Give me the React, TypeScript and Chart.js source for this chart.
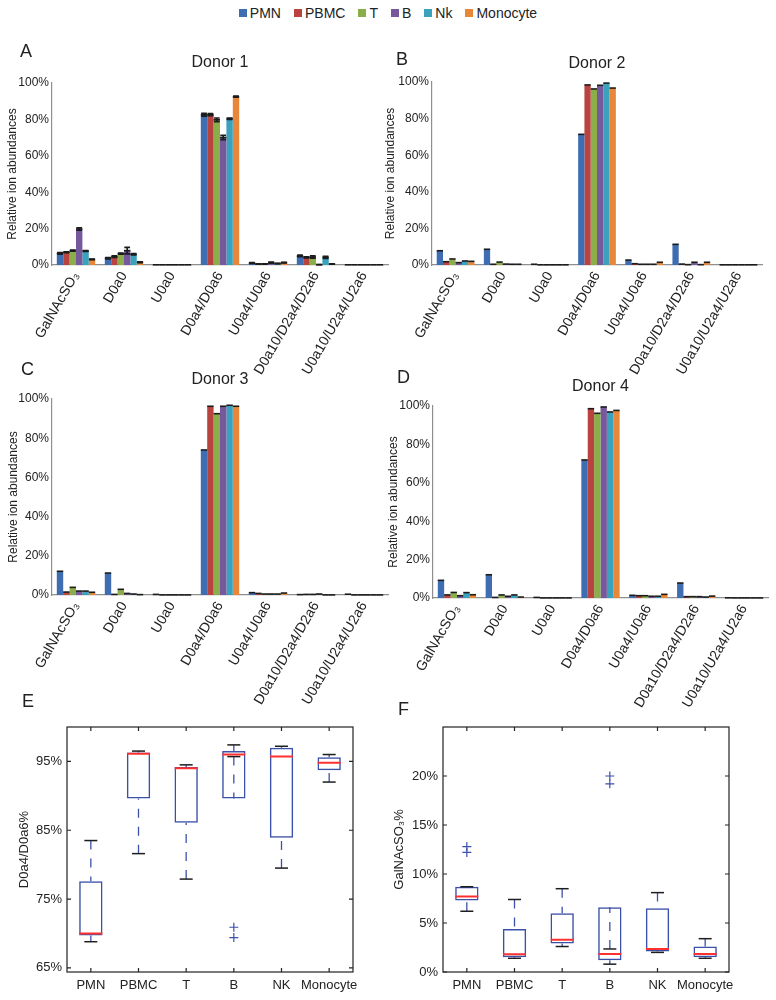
import React, { useEffect, useRef } from "react";
import { Chart, registerables } from "chart.js";
Chart.register(...registerables);

const FONT = "'Liberation Sans', Arial, Helvetica, sans-serif";
Chart.defaults.font.family = FONT;
Chart.defaults.color = "#222";

// ---------- data ----------
const cellTypes = ["PMN", "PBMC", "T", "B", "Nk", "Monocyte"];
const cellColors = ["#3E6DB1", "#B9433F", "#8BAE4B", "#76589C", "#3BA2BD", "#E8873A"];
const categories = ["GalNAcSO₃", "D0a0", "U0a0", "D0a4/D0a6", "U0a4/U0a6", "D0a10/D2a4/D2a6", "U0a10/U2a4/U2a6"];

// rows: PMN, PBMC, T, B, Nk, Monocyte ; columns: categories
const donor1 = [
  [6.4, 3.7, 0.1, 82.6, 1.1, 5.0, 0.1],
  [7.0, 4.6, 0.1, 82.6, 0.6, 4.2, 0.1],
  [7.9, 6.2, 0.1, 79.8, 0.6, 4.4, 0.1],
  [19.8, 7.9, 0.1, 70.1, 1.3, 0.2, 0.1],
  [7.7, 5.9, 0.1, 80.4, 0.8, 4.2, 0.1],
  [3.1, 1.5, 0.1, 92.5, 1.3, 0.5, 0.1],
];
const donor1Errors = [
  [0.4, 0.4, 0, 0.8, 0.2, 0.4, 0],
  [0.3, 0.4, 0, 0.6, 0.1, 0.3, 0],
  [0.3, 0.3, 0, 1.0, 0.1, 0.6, 0],
  [0.7, 1.8, 0, 1.2, 0.3, 0.1, 0],
  [0.2, 0.4, 0, 0.4, 0.1, 0.6, 0],
  [0.2, 0.2, 0, 0.3, 0.2, 0.1, 0],
];
const donor2 = [
  [7.8, 8.6, 0.4, 71.4, 2.7, 11.3, 0.1],
  [1.8, 0.4, 0.1, 98.4, 0.7, 0.5, 0.1],
  [3.3, 1.6, 0.1, 96.2, 0.4, 0.2, 0.1],
  [1.3, 0.5, 0.1, 98.2, 0.4, 1.5, 0.1],
  [2.2, 0.4, 0.1, 99.4, 0.4, 0.2, 0.1],
  [2.0, 0.4, 0.1, 96.7, 1.5, 1.5, 0.1],
];
const donor3 = [
  [12.1, 11.2, 0.3, 74.0, 1.2, 0.2, 0.4],
  [1.5, 0.3, 0.05, 96.3, 0.8, 0.3, 0.05],
  [3.9, 2.9, 0.05, 92.5, 0.5, 0.3, 0.05],
  [2.0, 0.8, 0.05, 96.3, 0.5, 0.5, 0.05],
  [2.0, 0.5, 0.05, 96.8, 0.5, 0.05, 0.05],
  [1.4, 0.2, 0.05, 96.3, 1.0, 0.05, 0.05],
];
const donor4 = [
  [9.2, 12.1, 0.3, 71.9, 1.4, 7.8, 0.1],
  [1.6, 0.3, 0.05, 98.6, 1.2, 0.7, 0.05],
  [2.9, 1.6, 0.05, 96.2, 1.2, 0.7, 0.05],
  [1.2, 0.9, 0.05, 99.5, 0.9, 0.7, 0.05],
  [2.8, 1.6, 0.05, 96.9, 0.9, 0.5, 0.05],
  [1.7, 0.5, 0.05, 97.7, 1.9, 1.0, 0.05],
];

const boxCategories = ["PMN", "PBMC", "T", "B", "NK", "Monocyte"];
// E: D0a4/D0a6 %
const eUpper = [83.5, 96.5, 94.5, 97.4, 97.2, 96.0];
const eQ3 = [77.6, 96.3, 94.2, 96.5, 97.0, 95.6];
const eMedian = [70.0, 96.1, 94.0, 96.0, 95.7, 94.8];
const eQ1 = [69.7, 89.6, 86.1, 89.6, 83.9, 93.7];
const eLower = [68.8, 81.6, 77.9, 95.7, 79.5, 92.0];
const eOutlierCats = ["B", "B"];
const eOutlierValues = [70.9, 69.4];
const eTicks = [65, 75, 85, 95];
// F: GalNAcSO3 %
const fUpper = [8.7, 7.4, 8.5, 2.35, 8.1, 3.4];
const fQ3 = [8.7, 4.4, 6.0, 6.6, 6.5, 2.6];
const fMedian = [7.7, 1.8, 3.3, 1.84, 2.35, 1.84];
const fQ1 = [7.3, 1.5, 2.9, 1.2, 2.1, 1.5];
const fLower = [6.2, 1.4, 2.6, 0.8, 2.0, 1.4];
const fOutlierCats = ["PMN", "PMN", "B", "B"];
const fOutlierValues = [12.8, 12.2, 20.0, 19.2];
const fTicks = [0, 5, 10, 15, 20];

// ---------- plugins ----------
function capPlugin(errors?: number[][]) {
  return {
    id: "barCaps",
    afterDatasetsDraw(chart: any) {
      const ctx = chart.ctx;
      const ys = chart.scales.y;
      ctx.save();
      ctx.strokeStyle = "#1c1c1c";
      ctx.lineWidth = 1.6;
      chart.data.datasets.forEach((ds: any, di: number) => {
        const meta = chart.getDatasetMeta(di);
        meta.data.forEach((el: any, i: number) => {
          const v = ds.data[i];
          const w = el.width;
          const yy = ys.getPixelForValue(v);
          ctx.beginPath();
          ctx.moveTo(el.x - w / 2, yy);
          ctx.lineTo(el.x + w / 2, yy);
          ctx.stroke();
          const e = errors && errors[di] ? errors[di][i] : 0;
          if (e > 0) {
            const y1 = ys.getPixelForValue(v - e);
            const y2 = ys.getPixelForValue(v + e);
            const hw = w * 0.45;
            ctx.beginPath();
            ctx.moveTo(el.x, y1);
            ctx.lineTo(el.x, y2);
            ctx.moveTo(el.x - hw, y1);
            ctx.lineTo(el.x + hw, y1);
            ctx.moveTo(el.x - hw, y2);
            ctx.lineTo(el.x + hw, y2);
            ctx.stroke();
          }
        });
      });
      ctx.restore();
    },
  };
}

const framePlugin = {
  id: "frame",
  afterDraw(chart: any) {
    const { ctx, chartArea } = chart;
    const { left, top, right, bottom } = chartArea;
    const xs = chart.scales.x;
    const ys = chart.scales.y;
    ctx.save();
    ctx.strokeStyle = "#222";
    ctx.lineWidth = 1.2;
    ctx.strokeRect(left, top, right - left, bottom - top);
    ctx.beginPath();
    xs.ticks.forEach((_t: any, i: number) => {
      const px = xs.getPixelForTick(i);
      ctx.moveTo(px, top);
      ctx.lineTo(px, top + 4);
      ctx.moveTo(px, bottom);
      ctx.lineTo(px, bottom - 4);
    });
    ys.ticks.forEach((_t: any, i: number) => {
      const py = ys.getPixelForTick(i);
      ctx.moveTo(left, py);
      ctx.lineTo(left + 4, py);
      ctx.moveTo(right, py);
      ctx.lineTo(right - 4, py);
    });
    ctx.stroke();
    ctx.restore();
  },
};

// ---------- configs ----------
type BarPanel = {
  title: string;
  values: number[][];
  errors?: number[][];
  yAxisWidth: number;
  padRight: number;
  titleCenter: number;
  plotTop: number;
  xAxisHeight: number;
  yTitlePad: number;
};

function barConfig(p: BarPanel): any {
  const datasets = cellTypes.map((name, i) => ({
    label: name,
    data: p.values[i],
    backgroundColor: cellColors[i],
    borderWidth: 0,
    categoryPercentage: 0.8,
    barPercentage: 1.0,
  }));
  const axisBorder = { display: true, color: "#8f8f8f", width: 1.2 };
  return {
    type: "bar",
    data: { labels: categories, datasets },
    options: {
      responsive: false,
      animation: false,
      events: [],
      layout: { padding: { top: 0, right: p.padRight, left: 0, bottom: 0 } },
      plugins: {
        legend: { display: false },
        tooltip: { enabled: false },
        title: {
          display: true,
          text: p.title,
          fullSize: false,
          color: "#222",
          font: { size: 16, weight: "normal", family: FONT },
          padding: { top: p.titleCenter - 9.6, bottom: p.plotTop - p.titleCenter - 9.6 },
        },
      },
      scales: {
        x: {
          grid: { display: false, drawTicks: false },
          border: axisBorder,
          ticks: { minRotation: 60, maxRotation: 60, autoSkip: false, padding: 4, color: "#222", font: { size: 14 } },
          afterFit: (s: any) => {
            s.height = p.xAxisHeight;
          },
        },
        y: {
          min: 0,
          max: 100,
          grid: { display: false, drawTicks: false },
          border: axisBorder,
          ticks: { stepSize: 20, padding: 3, color: "#222", font: { size: 12 }, callback: (v: any) => v + "%" },
          title: {
            display: true,
            text: "Relative ion abundances",
            color: "#222",
            font: { size: 12 },
            padding: { top: p.yTitlePad, bottom: 0 },
          },
          afterFit: (s: any) => {
            s.width = p.yAxisWidth;
          },
        },
      },
    },
    plugins: [capPlugin(p.errors)],
  };
}

type BoxPanel = {
  upper: number[];
  q3: number[];
  median: number[];
  q1: number[];
  lower: number[];
  outlierCats: string[];
  outlierValues: number[];
  ticks: number[];
  yMin: number;
  yMax: number;
  yTitle: string;
  yAxisWidth: number;
  padRight: number;
  padTop: number;
  xAxisHeight: number;
  yTitlePad: number;
};

const BOX_BLUE = "#3B50A8";
function boxConfig(b: BoxPanel): any {
  const pts = (vals: number[]) => vals.map((v, i) => ({ x: boxCategories[i], y: v }));
  const whiskers: any[] = [];
  boxCategories.forEach((c, i) => {
    whiskers.push({ x: c, y: b.upper[i] }, { x: c, y: b.q3[i] }, { x: c, y: null });
    whiskers.push({ x: c, y: b.lower[i] }, { x: c, y: b.q1[i] }, { x: c, y: null });
  });
  const outliers = b.outlierValues.map((v, i) => ({ x: b.outlierCats[i], y: v }));
  return {
    type: "bar",
    data: {
      labels: boxCategories,
      datasets: [
        {
          type: "line",
          label: "median",
          data: pts(b.median),
          showLine: false,
          pointStyle: "line",
          pointRadius: 11.5,
          pointBorderColor: "#FF3030",
          pointBorderWidth: 2,
          order: 0,
        },
        {
          type: "line",
          label: "caps",
          data: [...pts(b.upper), ...pts(b.lower)],
          showLine: false,
          pointStyle: "line",
          pointRadius: 6.5,
          pointBorderColor: "#1e1e1e",
          pointBorderWidth: 1.5,
          order: 1,
        },
        {
          type: "line",
          label: "outliers",
          data: outliers,
          showLine: false,
          pointStyle: "cross",
          pointRadius: 4.5,
          pointBorderColor: BOX_BLUE,
          pointBorderWidth: 1.2,
          order: 2,
        },
        {
          type: "line",
          label: "whiskers",
          data: whiskers,
          spanGaps: false,
          borderColor: BOX_BLUE,
          borderWidth: 1.3,
          borderDash: [9, 9],
          pointRadius: 0,
          order: 3,
        },
        {
          type: "bar",
          label: "box",
          data: b.q1.map((v, i) => [v, b.q3[i]]),
          backgroundColor: "rgba(255,255,255,0)",
          borderColor: BOX_BLUE,
          borderWidth: 1.5,
          borderSkipped: false,
          barPercentage: 0.49,
          categoryPercentage: 1,
          order: 4,
        },
      ],
    },
    options: {
      responsive: false,
      animation: false,
      events: [],
      layout: { padding: { top: b.padTop, right: b.padRight, left: 0, bottom: 0 } },
      plugins: { legend: { display: false }, tooltip: { enabled: false }, title: { display: false } },
      scales: {
        x: {
          grid: { display: false, drawTicks: false },
          border: { display: false },
          ticks: { minRotation: 0, maxRotation: 0, autoSkip: false, padding: 6, color: "#222", font: { size: 13 } },
          afterFit: (s: any) => {
            s.height = b.xAxisHeight;
          },
        },
        y: {
          min: b.yMin,
          max: b.yMax,
          grid: { display: false, drawTicks: false },
          border: { display: false },
          afterBuildTicks: (s: any) => {
            s.ticks = b.ticks.map((v) => ({ value: v }));
          },
          ticks: { padding: 5, color: "#222", font: { size: 13 }, callback: (v: any) => v + "%" },
          title: { display: true, text: b.yTitle, color: "#222", font: { size: 13 }, padding: { top: b.yTitlePad, bottom: 0 } },
          afterFit: (s: any) => {
            s.width = b.yAxisWidth;
          },
        },
      },
    },
    plugins: [framePlugin],
  };
}

// ---------- components ----------
function ChartCanvas(props: { left: number; top: number; width: number; height: number; make: () => any }) {
  const ref = useRef<HTMLCanvasElement>(null);
  useEffect(() => {
    const chart = new Chart(ref.current as HTMLCanvasElement, props.make());
    return () => chart.destroy();
  }, []);
  return (
    <canvas
      ref={ref}
      width={props.width}
      height={props.height}
      style={{ position: "absolute", left: props.left, top: props.top, width: props.width, height: props.height }}
    />
  );
}

function Letter(props: { text: string; left: number; top: number }) {
  return (
    <div
      style={{
        position: "absolute",
        left: props.left,
        top: props.top,
        fontSize: 18,
        lineHeight: "18px",
        fontFamily: FONT,
        color: "#222",
      }}
    >
      {props.text}
    </div>
  );
}

function Legend() {
  return (
    <div
      style={{
        position: "absolute",
        left: 0,
        top: 6,
        width: 776,
        display: "flex",
        justifyContent: "center",
        gap: 13,
        fontFamily: FONT,
        fontSize: 14,
        lineHeight: "14px",
        color: "#222",
      }}
    >
      {cellTypes.map((name, i) => (
        <div key={name} style={{ display: "flex", alignItems: "center" }}>
          <span style={{ display: "inline-block", width: 8, height: 8, background: cellColors[i], marginRight: 3 }} />
          <span>{name}</span>
        </div>
      ))}
    </div>
  );
}

export default function App() {
  return (
    <div
      style={{
        position: "absolute",
        left: 0,
        top: 0,
        width: 776,
        height: 1000,
        background: "#fff",
        overflow: "hidden",
      }}
    >
      <Legend />
      <ChartCanvas
        left={0}
        top={40}
        width={400}
        height={340}
        make={() =>
          barConfig({ title: "Donor 1", values: donor1, errors: donor1Errors, yAxisWidth: 52, padRight: 12, titleCenter: 23, plotTop: 43, xAxisHeight: 115, yTitlePad: 5 })
        }
      />
      <ChartCanvas
        left={380}
        top={40}
        width={396}
        height={340}
        make={() =>
          barConfig({ title: "Donor 2", values: donor2, yAxisWidth: 52, padRight: 14, titleCenter: 23.5, plotTop: 42, xAxisHeight: 115, yTitlePad: 3 })
        }
      />
      <ChartCanvas
        left={0}
        top={350}
        width={400}
        height={360}
        make={() =>
          barConfig({ title: "Donor 3", values: donor3, yAxisWidth: 52, padRight: 12, titleCenter: 30, plotTop: 49, xAxisHeight: 115, yTitlePad: 6 })
        }
      />
      <ChartCanvas
        left={380}
        top={350}
        width={396}
        height={360}
        make={() =>
          barConfig({ title: "Donor 4", values: donor4, yAxisWidth: 53, padRight: 8, titleCenter: 36.5, plotTop: 56, xAxisHeight: 112, yTitlePad: 6 })
        }
      />
      <ChartCanvas
        left={0}
        top={690}
        width={380}
        height={310}
        make={() =>
          boxConfig({
            upper: eUpper, q3: eQ3, median: eMedian, q1: eQ1, lower: eLower,
            outlierCats: eOutlierCats, outlierValues: eOutlierValues, ticks: eTicks,
            yMin: 64.4, yMax: 100, yTitle: "D0a4/D0a6%",
            yAxisWidth: 67, padRight: 27, padTop: 37, xAxisHeight: 28, yTitlePad: 17,
          })
        }
      />
      <ChartCanvas
        left={380}
        top={690}
        width={396}
        height={310}
        make={() =>
          boxConfig({
            upper: fUpper, q3: fQ3, median: fMedian, q1: fQ1, lower: fLower,
            outlierCats: fOutlierCats, outlierValues: fOutlierValues, ticks: fTicks,
            yMin: 0, yMax: 25, yTitle: "GalNAcSO₃%",
            yAxisWidth: 63, padRight: 47, padTop: 37, xAxisHeight: 28, yTitlePad: 12,
          })
        }
      />
      <Letter text="A" left={20} top={42} />
      <Letter text="B" left={396} top={50} />
      <Letter text="C" left={21} top={360} />
      <Letter text="D" left={397} top={368} />
      <Letter text="E" left={22} top={692} />
      <Letter text="F" left={398} top={700} />
    </div>
  );
}
